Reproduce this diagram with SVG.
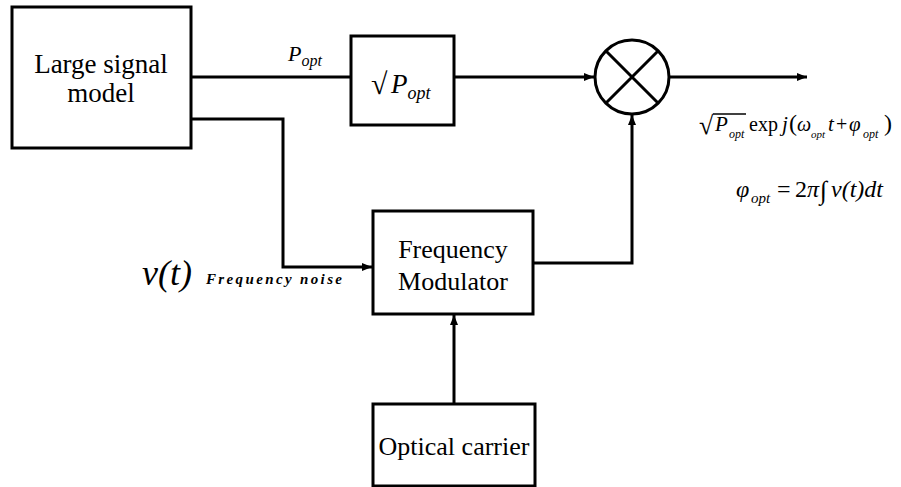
<svg xmlns="http://www.w3.org/2000/svg" width="901" height="487" viewBox="0 0 901 487" font-family="'Liberation Serif', 'Times New Roman', serif">
<defs>
<style>
.box{fill:#fff;stroke:#000;stroke-width:3}
.ln{fill:none;stroke:#000;stroke-width:3}
text{font-family:'Liberation Serif','Times New Roman',serif;fill:#000}
.i{font-style:italic}
.c{text-anchor:middle}
</style>
<marker id="ah" markerWidth="10" markerHeight="8" refX="10" refY="4" orient="auto" markerUnits="userSpaceOnUse">
<path d="M0,0 L10,4 L0,8 Z" fill="#000"/>
</marker>
</defs>
<rect width="901" height="487" fill="#fff"/>
<g id="connectors">
<path class="ln" d="M191,77 H351"/>
<path class="ln" d="M454,77 H594" marker-end="url(#ah)"/>
<path class="ln" d="M669,77 H807" marker-end="url(#ah)"/>
<path class="ln" d="M191,119 H283 V267 H372" marker-end="url(#ah)"/>
<path class="ln" d="M533,263 H632 V115" marker-end="url(#ah)"/>
<path class="ln" d="M454,404 V315" marker-end="url(#ah)"/>
</g>
<g id="large-signal-model">
<rect class="box" x="12" y="7" width="179" height="141"/>
<text class="c" x="101" y="73" font-size="27">Large signal</text>
<text class="c" x="101" y="102" font-size="27">model</text>
</g>
<g id="popt-label">
<text class="i" x="288" y="61" font-size="22">P<tspan font-size="16" dy="5">opt</tspan></text>
</g>
<g id="sqrt-box">
<rect class="box" x="351" y="36" width="103" height="89"/>
<text x="371" y="94" font-size="30">√</text>
<text class="i" x="391" y="93" font-size="27">P<tspan font-size="18" dy="6">opt</tspan></text>
</g>
<g id="mixer">
<circle class="box" cx="632" cy="77" r="37"/>
<path class="ln" d="M606,51 L658,103 M658,51 L606,103"/>
</g>
<g id="frequency-modulator">
<rect class="box" x="373" y="211" width="160" height="103"/>
<text class="c" x="453" y="258" font-size="26">Frequency</text>
<text class="c" x="453" y="290" font-size="26">Modulator</text>
</g>
<g id="optical-carrier">
<rect class="box" x="373" y="404" width="162" height="82"/>
<text class="c" x="454" y="455" font-size="26">Optical carrier</text>
</g>
<g id="noise-label">
<text class="i" x="142" y="285" font-size="36">ν(t)</text>
<text class="i" x="206" y="284" font-size="15" font-weight="bold" textLength="136" lengthAdjust="spacing">Frequency noise</text>
</g>
<g id="output-formula">
<text x="699" y="134" font-size="26">√</text>
<line x1="713" y1="114" x2="746" y2="114" stroke="#000" stroke-width="1.3"/>
<text class="i" x="715" y="131" font-size="21">P</text>
<text class="i" x="729" y="138" font-size="12">opt</text>
<text x="749" y="131" font-size="20">exp</text>
<text class="i" x="782" y="131" font-size="21">j</text>
<text x="789" y="131" font-size="24">(</text>
<text class="i" x="797" y="131" font-size="20">ω</text>
<text class="i" x="811" y="138" font-size="11">opt</text>
<text class="i" x="828" y="131" font-size="21">t</text>
<text x="836" y="131" font-size="20">+</text>
<text class="i" x="849" y="131" font-size="21">φ</text>
<text class="i" x="863" y="138" font-size="12">opt</text>
<text x="884" y="131" font-size="24">)</text>
</g>
<g id="phase-formula">
<text class="i" x="736" y="197" font-size="24">φ</text>
<text class="i" x="751" y="203" font-size="15">opt</text>
<text x="777" y="197" font-size="24">=</text>
<text x="795" y="197" font-size="24">2<tspan class="i">π</tspan></text>
<text x="820" y="199" font-size="26">∫</text>
<text class="i" x="831" y="197" font-size="24">ν(t)dt</text>
</g>
</svg>
